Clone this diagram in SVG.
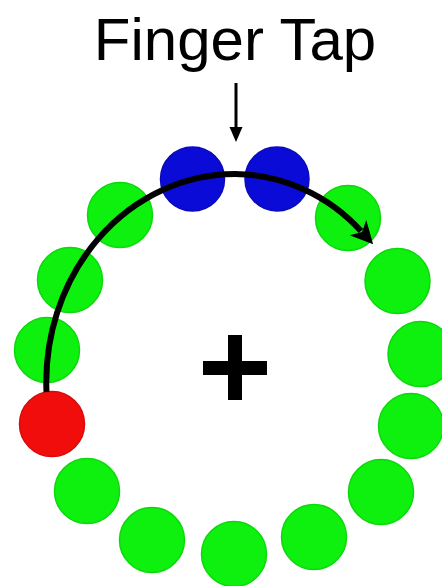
<svg xmlns="http://www.w3.org/2000/svg" width="442" height="586" viewBox="0 0 442 586">
  <style>
    .dot { stroke-width: 1.5; }
    .green { fill: #0ef00e; stroke: #0cd80c; }
    .blue { fill: #0b0bd8; stroke: #0a0ab8; }
    .red { fill: #f20d0d; stroke: #d80a0a; }
    .label { font-family: "Liberation Sans", Arial, sans-serif; font-size: 60px; fill: #000; }
    .conn { fill: none; stroke: #000; }
  </style>
  <defs>
    <marker id="head" markerUnits="userSpaceOnUse" markerWidth="30" markerHeight="30" viewBox="-2 -10 20 20" refX="3" refY="0" orient="auto">
      <path d="M0,-7.5 L15,0 L0,7.5 L4,0 Z" fill="#000"/>
    </marker>
    <marker id="headSmall" markerUnits="userSpaceOnUse" markerWidth="20" markerHeight="20" viewBox="-2 -10 20 20" refX="2" refY="0" orient="auto">
      <path d="M0,-6.5 L15,0 L0,6.5 Z" fill="#000"/>
    </marker>
  </defs>
  <rect width="442" height="586" fill="#fff"/>

  <g id="title">
    <text class="label" x="235" y="60" text-anchor="middle">Finger Tap</text>
  </g>

  <g id="dots">
    <circle id="d1" class="dot blue" cx="192.5" cy="179" r="32"/>
    <circle id="d2" class="dot blue" cx="277" cy="179" r="32"/>
    <circle id="d3" class="dot green" cx="348" cy="218" r="32.5"/>
    <circle id="d4" class="dot green" cx="397.5" cy="281" r="32.5"/>
    <circle id="d5" class="dot green" cx="420.5" cy="354" r="32.5"/>
    <circle id="d6" class="dot green" cx="411" cy="426" r="32.5"/>
    <circle id="d7" class="dot green" cx="381" cy="492" r="32.5"/>
    <circle id="d8" class="dot green" cx="314" cy="537" r="32.5"/>
    <circle id="d9" class="dot green" cx="234" cy="554" r="32.5"/>
    <circle id="d10" class="dot green" cx="152" cy="540" r="32.5"/>
    <circle id="d11" class="dot green" cx="87" cy="491" r="32.5"/>
    <circle id="d12" class="dot red" cx="52" cy="424" r="32.5"/>
    <circle id="d13" class="dot green" cx="47" cy="350" r="32.5"/>
    <circle id="d14" class="dot green" cx="70" cy="280" r="32.5"/>
    <circle id="d15" class="dot green" cx="120" cy="215" r="32.5"/>
  </g>

  <g id="fixation">
    <rect x="203" y="361" width="64" height="14" fill="#000"/>
    <rect x="228" y="335" width="14" height="65" fill="#000"/>
  </g>

  <g id="connectors">
    <path class="conn" stroke-width="3" d="M236,83 L236,129" marker-end="url(#headSmall)"/>
    <path class="conn" stroke-width="6" d="M46.5,392 A189,208 0 0 1 235,174 A176,183 0 0 1 361,231" marker-end="url(#head)"/>
  </g>
</svg>
